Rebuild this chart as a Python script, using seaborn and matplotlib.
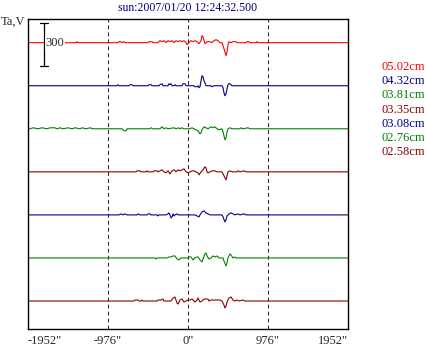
import matplotlib
matplotlib.use("Agg")
import matplotlib.pyplot as plt
import seaborn as sns
import pandas as pd

# scan positions in arcsec, antenna temperature in Ta,V units (knots)
x_502 = [-1366, -1354, -1342, -854, -842, -817, -805, -781, -769, -488, -476, -439, -427,
         -366, -342, -317, -293, -268, -244, -220, -195, -171, -146, -122, -98, -73, -49, -24, -12,
         12, 37, 61, 85, 110, 134, 159, 171, 183, 207, 232, 268, 293, 317, 342, 366, 390, 415, 439,
         464, 476, 488, 500, 525, 549, 586, 598, 708, 720, 744, 756, 830, 842, 854]
ta_502 = [0, 7, 0, 0, 7, 7, 0, 7, 0, 0, 7, 7, 0,
          0, 14, 7, 14, 0, 14, 7, 14, 0, 14, 7, 14, 7, 14, 0, -14,
          0, 14, 7, 14, 7, -7, 14, 49, 42, -7, 7, 7, 0, 14, 21, 14, 0, 0, -42,
          -91, -63, -14, 7, 0, 7, 7, 0, 0, 7, 7, 0, 0, 7, 0]

x_432 = [-866, -854, -842, -720, -708, -683, -671, -488, -476, -451, -439, -354, -342, -317, -305,
         -244, -232, -220, -207, -195, -171, -159, -146, -73, -61, -37, -24, 73, 85, 110, 122, 134,
         146, 159, 171, 183, 195, 207, 220, 281, 293, 317, 415, 427, 439, 451, 464, 476, 488, 500,
         512, 537]
ta_432 = [0, 7, 0, 0, 7, 7, 0, 0, 7, 7, 0, 0, 7, 14, 0,
          0, 14, 7, 14, 0, 0, 7, 0, 0, 14, 14, 0, 0, -7, -7, 0, -14,
          -7, 35, 70, 63, 35, 21, 0, 0, -7, 0, 0, -14, -49, -70, -56, -21, 7, 14,
          14, 0]

x_381 = [-1928, -1891, -1830, -1781, -1720, -1684, -1623, -1598, -1562, -1525, -1464, -1415,
         -1379, -1318, -1293, -1244, -1196, -1159, -805, -781, -756, -744, -464, -451, -427,
         -342, -317, -293, -268, -244, -171, -146, -110, -98, -73, -49, 24, 49, 73, 98, 122, 146,
         159, 171, 195, 220, 244, 281, 305, 329, 354, 378, 415, 427, 451, 464, 476, 488, 512, 537,
         634, 647, 671, 732, 756]
ta_381 = [0, 7, 0, 7, 0, 7, 7, 0, 7, 0, 7, 0,
          7, 0, 7, 0, 7, 0, 0, -14, -14, 0, 0, 7, 0,
          0, 14, 0, 7, 0, 7, 0, 7, 0, 7, 0, 0, 7, 0, -7, -14, -35,
          -28, -7, 14, 7, 0, 14, 7, 14, 0, -7, 0, -21, -77, -63, -21, 0, 7, 0,
          0, 7, 0, 7, 0]

x_335 = [-634, -622, -586, -573, -512, -500, -488, -427, -415, -378, -366, -342, -317, -293,
         -268, -244, -220, -195, -171, -146, -122, -98, -73, -49, -24, 0, 24, 49, 73, 98, 122, 134,
         159, 183, 207, 220, 232, 244, 268, 293, 329, 354, 415, 439, 464, 476, 488, 512, 537, 598,
         610, 634, 683, 708]
ta_335 = [0, 7, 7, 0, 0, 7, 0, 0, 7, 7, 0, 7, 14, 0,
          -7, 7, -14, 7, 14, 0, 14, 7, 14, 21, 0, -7, 0, 7, 7, 0, -7, -21,
          0, 14, 35, 28, 0, -7, 0, 7, 7, 0, 0, -28, -56, -28, 0, 7, 0, 0,
          7, 0, 7, 0]

x_308 = [-842, -817, -793, -769, -744, -708, -622, -610, -586, -500, -488, -464, -451, -378,
         -366, -354, -268, -244, -232, -220, -207, -195, -183, -171, -159, -134, -122, 85, 110,
         134, 146, 171, 195, 220, 244, 268, 293, 415, 427, 451, 464, 476, 500, 525, 549, 573, 610,
         634, 683, 708]
ta_308 = [0, 7, 0, 7, 0, 0, 0, 7, 0, 0, 7, 7, 0, 0,
          -7, 0, 0, 7, 14, 0, -21, -14, 7, -7, 0, 7, 0, 0, -7,
          -14, 0, 21, 28, 14, 7, 0, 0, 0, -14, -49, -35, -7, 7, 14, 7, 0, 7,
          0, 7, 0]

x_276 = [-403, -390, -378, -256, -232, -207, -183, -159, -134, -110, -85, 0, 12, 37, 61, 85,
         110, 122, 146, 171, 183, 207, 220, 232, 256, 281, 305, 329, 354, 378, 427, 439, 464, 476,
         488, 512, 525, 549, 573, 586, 610]
ta_276 = [0, -7, 0, 0, 7, 7, 14, 14, -7, -14, 0, 0, 7, 7, -14, 0,
          7, 7, -14, -28, -7, 28, 35, 14, -7, 0, 14, 7, 14, 0, 0, -21, -56, -35,
          0, 28, 21, 0, 7, 0, 0]

x_258 = [-659, -647, -610, -598, -573, -561, -549, -378, -366, -329, -305, -293, -207, -183,
         -159, -134, -122, -98, -73, -49, -24, 0, 24, 49, 61, 85, 110, 122, 146, 171, 195, 220, 244,
         256, 281, 390, 415, 439, 451, 464, 476, 500, 525, 549, 573, 598, 622, 671, 695]
ta_258 = [0, 7, 7, 0, 0, 7, 0, 0, 7, 7, 14, 0, 0, 21,
          28, -14, -21, 7, 14, -7, 0, 7, 7, 14, 7, -7, 7, 21, -7, 0, 14, 14, 14,
          0, 7, 7, 0, -28, -49, -35, -7, 21, 28, 7, 0, 7, 0, 7, 0]

wavelengths = ["05.02cm", "04.32cm", "03.81cm", "03.35cm", "03.08cm", "02.76cm", "02.58cm"]
colors = ["#ff0000", "#00008b", "#008000", "#8b0000", "#00008b", "#008000", "#8b0000"]
offsets = [1995, 1695, 1395, 1095, 795, 495, 195]
xticks = [-1952, -976, 0, 976, 1952]
xticklabels = ['-1952"', '-976"', '0"', '976"', '1952"']
scale_value = 300
title = "sun:2007/01/20 12:24:32.500"

traces = [(x_502, ta_502), (x_432, ta_432), (x_381, ta_381), (x_335, ta_335),
          (x_308, ta_308), (x_276, ta_276), (x_258, ta_258)]

rows = []
for name, (xs, ys), off in zip(wavelengths, traces, offsets):
    xs = [xticks[0]] + xs + [xticks[-1]]
    ys = [0] + ys + [0]
    for i, (a, b) in enumerate(zip(xs, ys)):
        rows.append({"channel": name, "order": i, "arcsec": a, "ta": b + off})
df = pd.DataFrame(rows)

sns.set_style("white")
plt.rcParams["font.family"] = ["Liberation Serif", "DejaVu Serif"]

fig = plt.figure(figsize=(4.26, 3.47), dpi=100)
ax = fig.add_axes([28 / 426, 1 - 329 / 347, 320 / 426, 310 / 347])

# reference dashed lines
for xv in xticks[1:-1]:
    ax.axvline(xv, color="#4a1c24", lw=0.75, dashes=(3.8, 2.9), zorder=1)

sns.lineplot(data=df, x="arcsec", y="ta", hue="channel", palette=dict(zip(wavelengths, colors)),
             units="channel", estimator=None, sort=False, lw=0.8, legend=False, ax=ax, zorder=2)

ax.set_xlim(xticks[0], xticks[-1])
ax.set_ylim(0, 2160)
ax.set_xlabel("")
ax.set_ylabel("")
ax.set_yticks([])
ax.set_xticks(xticks)
ax.set_xticklabels(xticklabels, fontsize=9)
ax.tick_params(axis="x", length=0, pad=4)
labels = ax.get_xticklabels()
labels[0].set_ha("left")
labels[-1].set_ha("right")
for s in ax.spines.values():
    s.set_color("black")
    s.set_linewidth(1.0)

# scale bar
bx = -1757
ax.plot([bx, bx], [1830, 1830 + scale_value], color="black", lw=0.9, zorder=3)
ax.plot([bx - 49, bx + 49], [1830, 1830], color="black", lw=0.9, zorder=3)
ax.plot([bx - 49, bx + 49], [1830 + scale_value, 1830 + scale_value], color="black", lw=0.9, zorder=3)
ax.text(bx + 20, 1990, str(scale_value), fontsize=9, ha="left", va="center", zorder=4,
        bbox=dict(facecolor="white", edgecolor="none", pad=0.3))

fig.text(188 / 426, 1 - 8 / 347, title, color="#000080", fontsize=8.5, ha="center", va="center")
fig.text(1 / 426, 1 - 22 / 347, "Ta,V", fontsize=9, ha="left", va="center")

for i, (name, c) in enumerate(zip(wavelengths, colors)):
    fig.text(425 / 426, 1 - (67 + 14.2 * i) / 347, name, color=c, fontsize=9, ha="right", va="center")

fig.savefig("out.png", dpi=100, facecolor="white")
